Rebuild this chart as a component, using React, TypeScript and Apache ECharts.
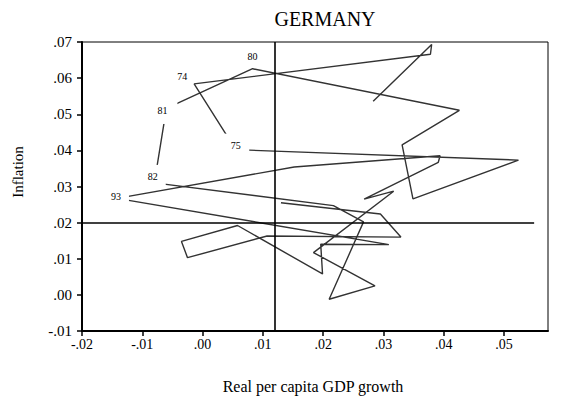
import React, { useEffect, useRef } from 'react';
import * as echarts from 'echarts';

// Real per capita GDP growth (x) and inflation (y), one point per year, 1971 onward
const gdpGrowth = [
  0.0283, 0.0380, 0.0378, -0.0014, 0.0055, 0.0524, 0.0349, 0.0331, 0.0426, 0.0083,
  -0.0060, -0.0080, 0.0217, 0.0267, 0.0210, 0.0286, 0.0184, 0.0317, 0.0268, 0.0391,
  0.0394, 0.0152, -0.0142, 0.0309, 0.0196, 0.0199, 0.0058, -0.0035, -0.0025, 0.0107,
  0.0329, 0.0295, 0.0130,
];
const inflation = [
  0.0536, 0.0693, 0.0666, 0.0584, 0.0402, 0.0373, 0.0266, 0.0415, 0.0511, 0.0626,
  0.0516, 0.0310, 0.0247, 0.0202, -0.0012, 0.0025, 0.0117, 0.0287, 0.0265, 0.0367,
  0.0385, 0.0354, 0.0267, 0.0139, 0.0140, 0.0058, 0.0192, 0.0148, 0.0103, 0.0163,
  0.0160, 0.0224, 0.0255,
];
const yearLabels = [
  '', '', '', '74', '75', '', '', '', '', '80',
  '81', '82', '', '', '', '', '', '', '', '',
  '', '', '93', '', '', '', '', '', '', '',
  '', '', '',
];
const xTicks = [-0.02, -0.01, 0, 0.01, 0.02, 0.03, 0.04, 0.05];
const refGrowth = 0.012;
const refInflation = 0.02;

const title = 'GERMANY';
const xName = 'Real per capita GDP growth';
const yName = 'Inflation';

const fmt = (v: number) => {
  const r = Math.round(Math.abs(v) * 100);
  return (v < -1e-9 ? '-' : '') + '.' + String(r).padStart(2, '0');
};

const SERIF = '"Liberation Serif", "DejaVu Serif", serif';

// label placement (box offset from point, box size, text offset within box)
const labelStyle: Record<string, { off: number[]; size: number[]; text: number[] }> = {
  '74': { off: [-12, -7], size: [14, 10], text: [0, 0] },
  '80': { off: [0, -12], size: [14, 10], text: [0, 0] },
  '75': { off: [0, -3], size: [27, 26], text: [0, -1] },
  '81': { off: [0, 3], size: [22, 25], text: [-4, -1] },
  '82': { off: [-1.6, -6.5], size: [26, 23], text: [0, 0] },
  '93': { off: [-1, -2], size: [26, 22], text: [0, 0] },
};

export default function App() {
  const ref = useRef<HTMLDivElement>(null);
  useEffect(() => {
    if (!ref.current) return;
    const chart = echarts.init(ref.current, undefined, { renderer: 'svg' });
    const pts = gdpGrowth.map((x, i) => [x, inflation[i]]);
    const labelData = yearLabels
      .map((l, i) => ({ l, i }))
      .filter((d) => d.l !== '')
      .map(({ l, i }) => {
        const s = labelStyle[l];
        return {
          value: [gdpGrowth[i], inflation[i]],
          name: l,
          symbol: 'rect',
          symbolSize: s.size,
          symbolOffset: s.off,
          itemStyle: { color: '#fff', opacity: 1 },
          label: { offset: s.text },
        };
      });
    chart.setOption({
      animation: false,
      backgroundColor: '#fff',
      grid: {
        left: 82,
        top: 42,
        width: 466,
        height: 289,
        show: true,
        borderColor: '#000',
        borderWidth: 1,
        containLabel: false,
      },
      xAxis: {
        type: 'value',
        min: -0.02,
        max: 0.0573,
        interval: 0.01,
        splitLine: { show: false },
        axisLine: { show: true, onZero: false, lineStyle: { color: '#000', width: 2 } },
        axisTick: { show: true, length: 5, inside: false, customValues: xTicks, lineStyle: { color: '#000', width: 1.5 } },
        axisLabel: {
          customValues: xTicks,
          formatter: (v: number) => fmt(v),
          color: '#000',
          fontFamily: SERIF,
          fontSize: 14,
          margin: 6,
        },
      },
      yAxis: {
        type: 'value',
        min: -0.01,
        max: 0.07,
        interval: 0.01,
        splitLine: { show: false },
        axisLine: { show: true, onZero: false, lineStyle: { color: '#000', width: 2 } },
        axisTick: { show: true, length: 5, inside: false, lineStyle: { color: '#000', width: 1.5 } },
        axisLabel: {
          formatter: (v: number) => fmt(v),
          color: '#000',
          fontFamily: SERIF,
          fontSize: 15,
          margin: 10,
        },
      },
      graphic: [
        {
          type: 'text',
          x: 325,
          y: 19,
          style: { text: title, font: '20px ' + SERIF, fill: '#000', textAlign: 'center', textVerticalAlign: 'middle', align: 'center', verticalAlign: 'middle' },
        },
        {
          type: 'text',
          x: 313,
          y: 386,
          style: { text: xName, font: '16px ' + SERIF, fill: '#000', textAlign: 'center', textVerticalAlign: 'middle', align: 'center', verticalAlign: 'middle' },
        },
        {
          type: 'text',
          x: 18,
          y: 172,
          rotation: Math.PI / 2,
          style: { text: yName, font: '15px ' + SERIF, fill: '#000', textAlign: 'center', textVerticalAlign: 'middle', align: 'center', verticalAlign: 'middle' },
        },
      ],
      series: [
        {
          type: 'line',
          data: pts,
          showSymbol: false,
          symbol: 'none',
          z: 2,
          lineStyle: { color: '#333', width: 1.4 },
          markLine: {
            silent: true,
            symbol: ['none', 'none'],
            label: { show: false },
            lineStyle: { color: '#000', width: 1.6, type: 'solid' },
            data: [
              [{ coord: [refGrowth, -0.01] }, { coord: [refGrowth, 0.07] }],
              [{ coord: [-0.02, refInflation] }, { coord: [0.055, refInflation] }],
            ],
          },
        },
        {
          type: 'scatter',
          data: labelData,
          z: 5,
          silent: true,
          label: {
            show: true,
            position: 'inside',
            formatter: '{b}',
            color: '#000',
            fontFamily: SERIF,
            fontSize: 10,
          },
        },
      ],
    });
    return () => chart.dispose();
  }, []);
  return <div ref={ref} style={{ position: 'fixed', left: 0, top: 0, width: 568, height: 399 }} />;
}
